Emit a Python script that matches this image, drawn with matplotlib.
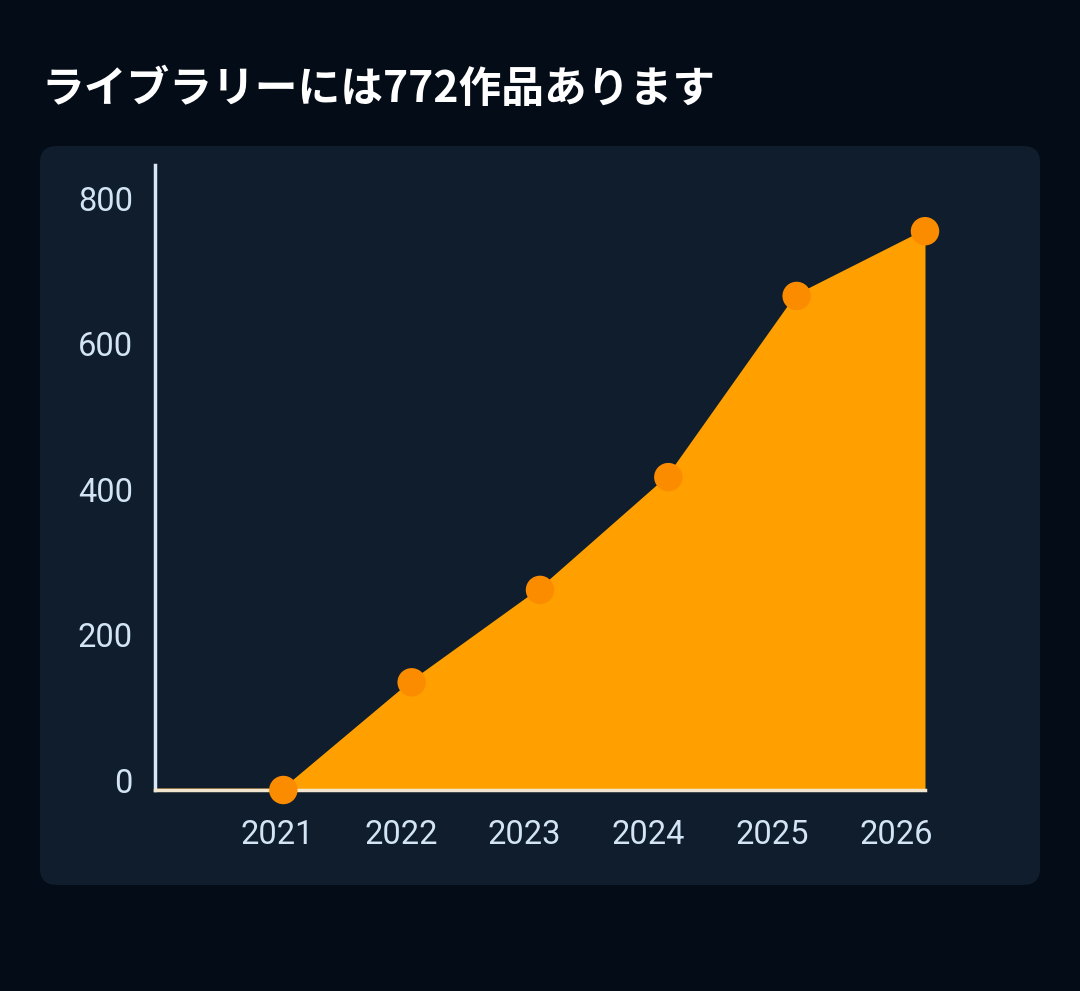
import numpy as np
import matplotlib.pyplot as plt
from matplotlib.patches import FancyBboxPatch
from matplotlib.transforms import ScaledTranslation

# data
years = [2020, 2021, 2022, 2023, 2024, 2025, 2026]
works = [0, 0, 148, 275, 430, 679, 768]
marker_years = years[1:]
marker_works = works[1:]
tick_labels = ['2021', '2022', '2023', '2024', '2025', '2026']
y_ticks = [0, 200, 400, 600, 800]
title = 'ライブラリーには772作品あります'

bg = '#040c17'
panel = '#0f1d2c'
area_col = '#ffa000'
dot_col = '#fb8c00'
txt_col = '#d3e4f5'

W, H = 1080, 991
fig = plt.figure(figsize=(W / 100, H / 100), dpi=100, facecolor=bg)

# rounded panel
fig.patches.append(FancyBboxPatch((40 / W, 1 - 885 / H), 1000 / W, 739 / H,
                                  boxstyle='round,pad=0,rounding_size=0.016',
                                  transform=fig.transFigure, facecolor=panel,
                                  edgecolor='none', zorder=-5))

fig.text(41 / W, 1 - 89 / H, title, color='white', fontsize=30.8, fontweight='bold',
         family=['Noto Sans CJK JP', 'DejaVu Sans'], va='center', ha='left')

# axes: x from 155 to 925 px, y from 165 (top) to 790 (bottom)
ax = fig.add_axes([155 / W, 1 - 790 / H, 770 / W, 625 / H])
ax.set_zorder(2)
ax.set_facecolor('none')
ax.set_xlim(years[0], years[-1])
ax.set_ylim(0, 859)

ax.fill_between(years, works, 0, color=area_col, linewidth=0, zorder=2)
ax.plot(years, works, color=area_col, linewidth=2, zorder=2, solid_capstyle='butt')
ax.scatter(marker_years, marker_works, s=420, color=dot_col, edgecolors='none',
           zorder=4, clip_on=False)

for s in ['top', 'right']:
    ax.spines[s].set_visible(False)
ax.spines['left'].set_color('#d6e8fa')
ax.spines['left'].set_linewidth(2.5)
ax.spines['bottom'].set_color('#f3e6d0')
ax.spines['bottom'].set_linewidth(2.5)
ax.spines['bottom'].set_zorder(3)

# label positions along x (slightly tighter than the points)
tick_pos = years[0] + 0.951 + 0.965 * np.arange(len(tick_labels))
ax.set_xticks(tick_pos)
ax.set_xticklabels(tick_labels)
ax.set_yticks(y_ticks)
ax.tick_params(axis='both', length=0, colors=txt_col, labelsize=23.5)
ax.tick_params(axis='x', pad=21)
ax.tick_params(axis='y', pad=16)
for lab in ax.get_xticklabels() + ax.get_yticklabels():
    lab.set_family(['Roboto', 'DejaVu Sans'])
off = ScaledTranslation(0, 7 / 72, fig.dpi_scale_trans)
for lab in ax.get_yticklabels():
    lab.set_transform(lab.get_transform() + off)

fig.savefig('out.png', dpi=100, facecolor=bg)
